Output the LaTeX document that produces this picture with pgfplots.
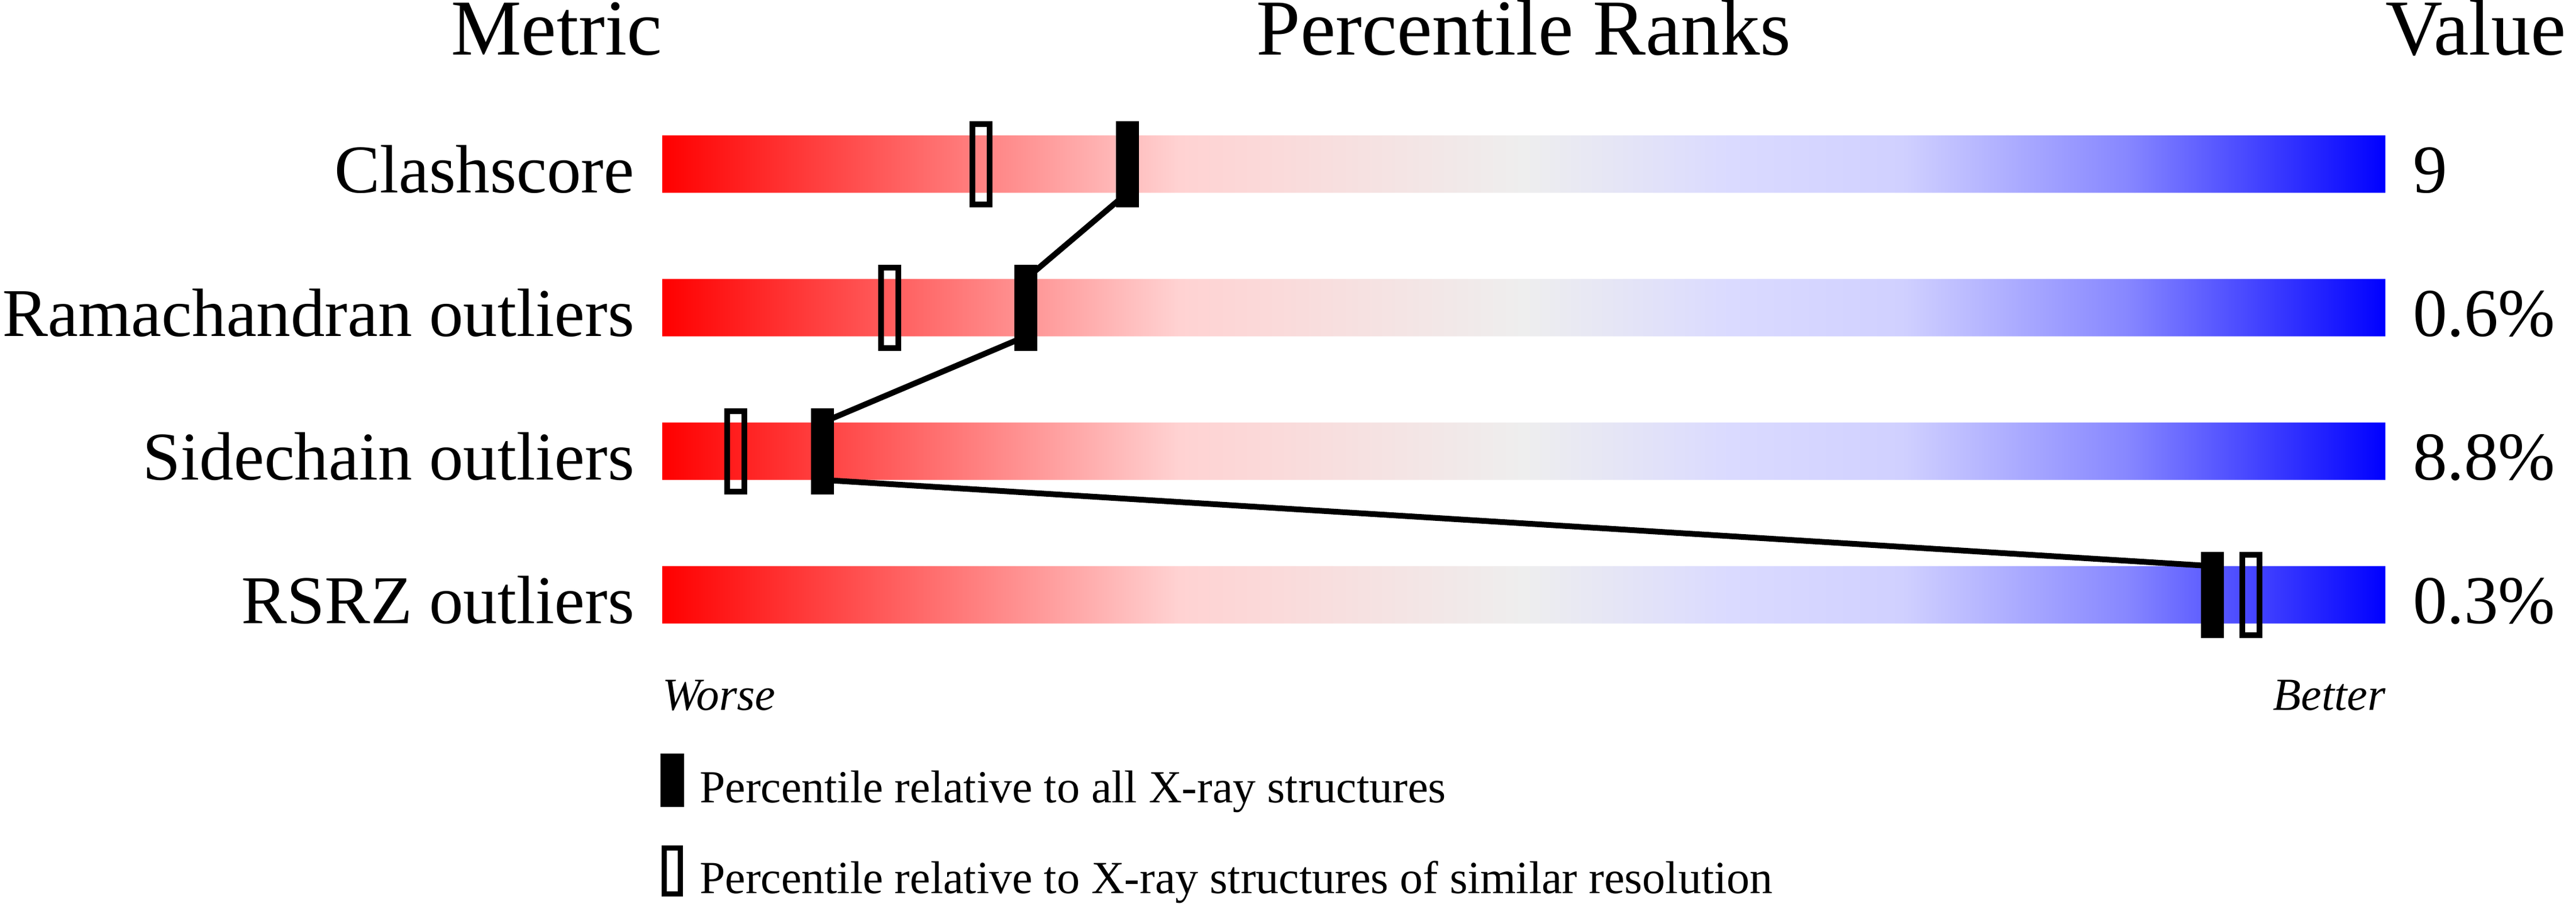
\documentclass[border=0pt]{standalone}
\usepackage{fontspec}
\setmainfont{Liberation Serif}
\usepackage{pgfplots}
\pgfplotsset{compat=1.18}

% slider colours, red (worse) to blue (better)
\definecolor{s1}{RGB}{255,210,210}
\definecolor{s2}{RGB}{238,238,238}
\definecolor{s3}{RGB}{218,218,255}
\definecolor{s4}{RGB}{208,208,255}
\definecolor{s5}{RGB}{135,135,255}
\pgfdeclarehorizontalshading{slider}{100bp}{color(0bp)=(red); color(25bp)=(red);
  color(40bp)=(s1); color(50bp)=(s2); color(56bp)=(s3); color(61bp)=(s4);
  color(67.5bp)=(s5); color(75bp)=(blue); color(100bp)=(blue)}

\pgfdeclareplotmark{fullbar}{%
  \pgfpathrectangle{\pgfqpoint{-2pt}{-7.5pt}}{\pgfqpoint{4pt}{15pt}}\pgfusepathqfill}
\pgfdeclareplotmark{openbar}{%
  \pgfpathrectangle{\pgfqpoint{-1.5pt}{-7pt}}{\pgfqpoint{3pt}{14pt}}\pgfusepathqstroke}

\newcommand\headfont{\fontsize{13.8}{16}\selectfont}
\newcommand\rowfont{\fontsize{11.9}{14}\selectfont}
\newcommand\notefont{\fontsize{8}{9.6}\selectfont}

\begin{document}
\begin{tikzpicture}
\begin{axis}[
  width=448.5pt, height=157.4pt, scale only axis,
  xmin=-38.433, xmax=111.067, ymin=-1.1424, ymax=5.1536, y dir=reverse,
  hide axis, clip=false,
  legend style={at={(axis cs:-0.1,4.1056)}, anchor=north west, draw=none, fill=none,
    inner sep=0pt, outer sep=0pt, row sep=6pt, column sep=2.7pt,
    nodes={inner sep=0pt, font=\notefont}},
  legend cell align=left,
  ]
  % background sliders, 0 to 100 percentile
  \addplot[xbar, bar width=0.4, draw=none, shade, shading=slider, forget plot]
    coordinates {(100,0) (100,1) (100,2) (100,3)};
  % line joining the percentiles relative to all structures
  \addplot[black, line width=1pt, forget plot]
    coordinates {(27.0,0.2) (21.1,0.8) (21.1,1.2) (9.3,1.8) (9.3,2.2) (89.95,2.8)};
  \addplot[only marks, mark=fullbar, black,
    legend image code/.code={\fill (0pt,-2.6pt) rectangle (3.7pt,6.3pt);}]
    coordinates {(27.0,0) (21.1,1) (9.3,2) (89.95,3)};
  \addlegendentry{Percentile relative to all X-ray structures}
  \addplot[only marks, mark=openbar, black, mark options={line width=1pt},
    legend image code/.code={\draw[line width=0.9pt] (0.45pt,-2.15pt) rectangle (3.25pt,5.85pt);}]
    coordinates {(18.5,0) (13.2,1) (4.25,2) (92.2,3)};
  \addlegendentry{Percentile relative to X-ray structures of similar resolution}

  \begin{scope}[every node/.style={inner sep=0pt, outer sep=0pt}]
    \node[anchor=base east, font=\headfont] at (axis cs:0,-0.7584) {Metric};
    \node[anchor=base, font=\headfont] at (axis cs:50,-0.7584) {Percentile Ranks};
    \node[anchor=base west, font=\headfont] at (axis cs:100,-0.7584) {Value};
    \node[anchor=base east, font=\rowfont] at (axis cs:-1.62,0.2) {Clashscore};
    \node[anchor=base east, font=\rowfont] at (axis cs:-1.62,1.2) {Ramachandran outliers};
    \node[anchor=base east, font=\rowfont] at (axis cs:-1.62,2.2) {Sidechain outliers};
    \node[anchor=base east, font=\rowfont] at (axis cs:-1.62,3.2) {RSRZ outliers};
    \node[anchor=base west, font=\rowfont] at (axis cs:101.6,0.2) {9};
    \node[anchor=base west, font=\rowfont] at (axis cs:101.6,1.2) {0.6\%};
    \node[anchor=base west, font=\rowfont] at (axis cs:101.6,2.2) {8.8\%};
    \node[anchor=base west, font=\rowfont] at (axis cs:101.6,3.2) {0.3\%};
    \node[anchor=base west, font=\notefont\itshape] at (axis cs:0,3.8016) {Worse};
    \node[anchor=base east, font=\notefont\itshape] at (axis cs:100,3.8016) {Better};
  \end{scope}
\end{axis}
\pgfresetboundingbox
\path[use as bounding box] (current axis.south west) rectangle (current axis.north east);
\end{tikzpicture}
\end{document}
